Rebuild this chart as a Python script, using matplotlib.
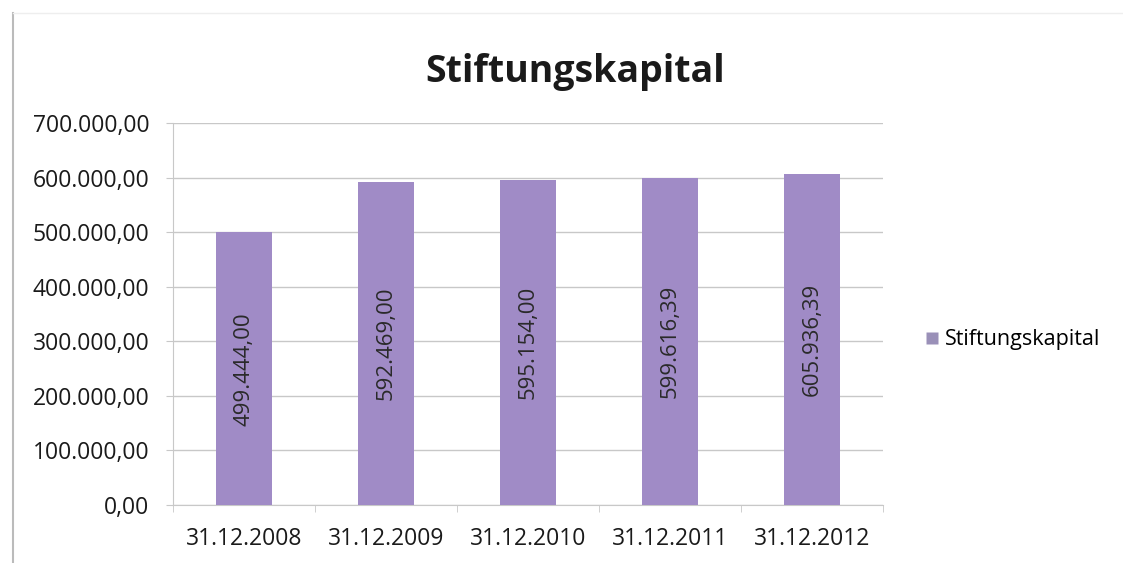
import matplotlib.pyplot as plt
from matplotlib.ticker import FuncFormatter, MultipleLocator
from matplotlib.lines import Line2D

# Data
dates = ['31.12.2008', '31.12.2009', '31.12.2010', '31.12.2011', '31.12.2012']
kapital = [499444.00, 592469.00, 595154.00, 599616.39, 605936.39]
series_name = 'Stiftungskapital'

bar_color = '#a08bc6'
grid_color = '#c8c8c8'


def de_format(v, pos=None):
    # German number format: 1.234.567,89
    s = f"{v:,.2f}"
    return s.replace(',', 'X').replace('.', ',').replace('X', '.')


plt.rcParams['font.family'] = ['Open Sans', 'DejaVu Sans']

fig = plt.figure(figsize=(11.23, 5.63), dpi=100)
ax = fig.add_axes([173 / 1123, 1 - 505 / 563, 710 / 1123, 382 / 563])

x = range(len(dates))
bars = ax.bar(x, kapital, width=0.39, color=bar_color, zorder=3, label=series_name)

for xi, v in zip(x, kapital):
    ax.text(xi, v / 2, de_format(v), rotation=90, ha='center', va='center',
            fontsize=16, color='#2a2a2a', zorder=4)

ax.set_xlim(-0.5, len(dates) - 0.5)
ax.set_ylim(0, 700000)
ax.yaxis.set_major_locator(MultipleLocator(100000))
ax.yaxis.set_major_formatter(FuncFormatter(de_format))
ax.set_xticks(list(x))
ax.set_xticklabels(dates)
ax.set_xticks([i - 0.5 for i in range(len(dates) + 1)], minor=True)

ax.grid(axis='y', color=grid_color, linewidth=1, zorder=0)
for side in ['top', 'right']:
    ax.spines[side].set_visible(False)
ax.spines['left'].set_color(grid_color)
ax.spines['bottom'].set_color(grid_color)

ax.tick_params(axis='x', which='major', length=0, pad=16, labelsize=16.5, labelcolor='#1a1a1a')
ax.tick_params(axis='x', which='minor', length=5, color=grid_color)
ax.tick_params(axis='y', length=5, color=grid_color, pad=12, labelsize=16.5, labelcolor='#1a1a1a')

fig.text(575 / 1123, 1 - 72 / 563, 'Stiftungskapital', ha='center', va='center',
         fontsize=27, fontweight='bold', color='#1a1a1a')

handle = Line2D([], [], marker='s', linestyle='none', markersize=9,
                markerfacecolor='#9a90b8', markeredgecolor='none')
fig.legend([handle], [series_name], loc='center left',
           bbox_to_anchor=(903 / 1123, 1 - 340 / 563), frameon=False,
           fontsize=15.5, handletextpad=0.15, handlelength=0.9)

# outer chart border (left and top, faint)
fig.add_artist(Line2D([13 / 1123, 13 / 1123], [0, 1 - 13 / 563], transform=fig.transFigure,
                      color='#bbbbbb', linewidth=1.5))
fig.add_artist(Line2D([13 / 1123, 1], [1 - 13 / 563, 1 - 13 / 563], transform=fig.transFigure,
                      color='#eeeeee', linewidth=1))

fig.savefig('out.png', dpi=100)
